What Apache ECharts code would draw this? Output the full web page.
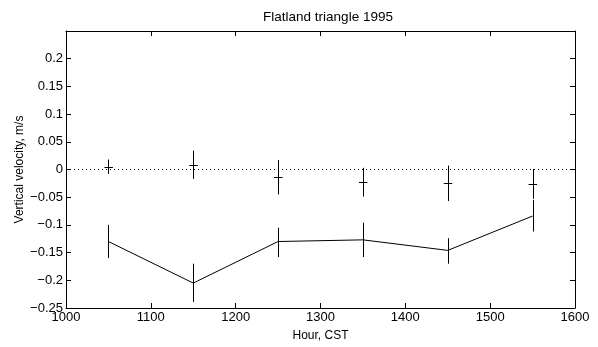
<!DOCTYPE html>
<html>
<head>
<meta charset="utf-8">
<script src="https://cdn.jsdelivr.net/npm/echarts@6/dist/echarts.min.js"></script>
<style>html,body{margin:0;padding:0;background:#fff;}#c{width:598px;height:347px;}</style>
</head>
<body>
<div id="c"></div>
<script>
const hours = [1050, 1150, 1250, 1350, 1450, 1550];
// upper series (markers with error bars)
const upperMean = [0.005, 0.008, -0.014, -0.023, -0.025, -0.026];
const upperLow  = [-0.008, -0.017, -0.045, -0.049, -0.057, -0.053];
const upperHigh = [0.018, 0.034, 0.017, 0.003, 0.007, 0.001];
// lower series (line with error bars)
const lowerMean = [-0.130, -0.205, -0.130, -0.127, -0.146, -0.084];
const lowerLow  = [-0.160, -0.239, -0.158, -0.158, -0.170, -0.112];
const lowerHigh = [-0.100, -0.170, -0.105, -0.096, -0.124, -0.055];
const zeroLine = [[1000, 0], [1600, 0]];
const xTicks = [1000, 1100, 1200, 1300, 1400, 1500, 1600];
const yTicks = [-0.25, -0.2, -0.15, -0.1, -0.05, 0, 0.05, 0.1, 0.15, 0.2];

const FONT = 'Liberation Sans';
const chart = echarts.init(document.getElementById('c'));

function errData(mean, lo, hi) {
  return hours.map((h, i) => [h, lo[i], hi[i], mean[i]]);
}
function errRender(withCross) {
  return function (params, api) {
    const x = api.value(0);
    const pLo = api.coord([x, api.value(1)]);
    const pHi = api.coord([x, api.value(2)]);
    const pM = api.coord([x, api.value(3)]);
    const style = { stroke: '#000', lineWidth: 1, fill: null };
    const children = [{
      type: 'line',
      shape: { x1: Math.round(pLo[0]) + 0.5, y1: pLo[1], x2: Math.round(pHi[0]) + 0.5, y2: pHi[1] },
      style: style
    }];
    if (withCross) {
      children.push({
        type: 'line',
        shape: { x1: pM[0] - 4, y1: Math.round(pM[1]) + 0.5, x2: pM[0] + 4.5, y2: Math.round(pM[1]) + 0.5 },
        style: style
      });
    }
    return { type: 'group', children: children };
  };
}

function fmtY(v) {
  if (Math.abs(v) < 1e-9) return '0';
  let s = String(Math.round(v * 100) / 100);
  return s.replace('-', '\u2212');
}

chart.setOption({
  animation: false,
  backgroundColor: '#fff',
  title: {
    text: 'Flatland triangle 1995',
    left: 323, top: 5,
    textAlign: 'center',
    textStyle: { fontFamily: FONT, fontSize: 13.5, fontWeight: 'normal', color: '#000' }
  },
  grid: { left: 66, right: 23, top: 31, bottom: 38, show: false },
  xAxis: [{
    type: 'value', min: 1000, max: 1600, interval: 100,
    name: 'Hour, CST', nameLocation: 'middle', nameGap: 22, nameMoveOverlap: false,
    nameTextStyle: { fontFamily: FONT, fontSize: 12, color: '#000' },
    axisLine: { show: true, onZero: false, lineStyle: { color: '#000', width: 1 } },
    axisTick: { show: true, inside: true, length: 5, lineStyle: { color: '#000' } },
    axisLabel: { fontFamily: FONT, fontSize: 13, color: '#000', margin: 3,
      formatter: v => xTicks.includes(v) ? String(v) : '' },
    splitLine: { show: false }
  }, {
    type: 'value', min: 1000, max: 1600, interval: 100, position: 'top',
    axisLine: { show: true, onZero: false, lineStyle: { color: '#000', width: 1 } },
    axisTick: { show: true, inside: true, length: 5, lineStyle: { color: '#000' } },
    axisLabel: { show: false }, splitLine: { show: false }
  }],
  yAxis: [{
    type: 'value', min: -0.25, max: 0.25, interval: 0.05,
    name: 'Vertical velocity, m/s', nameLocation: 'middle', nameGap: 40, nameMoveOverlap: false,
    nameTextStyle: { fontFamily: FONT, fontSize: 12, color: '#000' },
    axisLine: { show: true, onZero: false, lineStyle: { color: '#000', width: 1 } },
    axisTick: { show: true, inside: true, length: 5, lineStyle: { color: '#000' } },
    axisLabel: { fontFamily: FONT, fontSize: 13, color: '#000', margin: 3, showMaxLabel: false,
      formatter: v => yTicks.some(t => Math.abs(t - v) < 1e-9) ? fmtY(v) : '' },
    splitLine: { show: false }
  }, {
    type: 'value', min: -0.25, max: 0.25, interval: 0.05, position: 'right',
    axisLine: { show: true, onZero: false, lineStyle: { color: '#000', width: 1 } },
    axisTick: { show: true, inside: true, length: 5, lineStyle: { color: '#000' } },
    axisLabel: { show: false }, splitLine: { show: false }
  }],
  series: [{
    type: 'line', data: zeroLine, symbol: 'none', silent: true,
    lineStyle: { color: '#000', width: 1, type: [1, 3] }
  }, {
    type: 'line', data: hours.map((h, i) => [h, lowerMean[i]]), symbol: 'none',
    lineStyle: { color: '#000', width: 1 }
  }, {
    type: 'custom', renderItem: errRender(false), data: errData(lowerMean, lowerLow, lowerHigh),
    encode: { x: 0, y: [1, 2, 3] }
  }, {
    type: 'custom', renderItem: errRender(true), data: errData(upperMean, upperLow, upperHigh),
    encode: { x: 0, y: [1, 2, 3] }
  }]
});
</script>
</body>
</html>
